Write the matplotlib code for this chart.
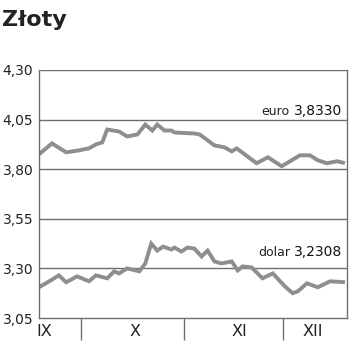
import matplotlib.pyplot as plt
from matplotlib.ticker import FixedLocator, NullFormatter, FixedFormatter

# day number counted from 1 September
euro_days = [17.3, 21.2, 25.5, 29.4, 32.4, 34.5, 36.4, 37.9, 41.5, 43.9, 47.0,
             49.4, 51.5, 53.0, 55.2, 57.3, 58.2, 64.2, 65.8, 70.3, 73.3, 75.5,
             77.0, 83.0, 86.4, 90.6, 93.6, 96.1, 99.1, 101.5, 104.2, 107.3, 109.1]
euro_rate = [3.875, 3.93, 3.885, 3.895, 3.905, 3.925, 3.935, 4.00, 3.99, 3.965, 3.975,
             4.025, 3.995, 4.025, 3.995, 3.995, 3.985, 3.98, 3.975, 3.92, 3.91, 3.89,
             3.905, 3.83, 3.86, 3.815, 3.845, 3.87, 3.87, 3.845, 3.83, 3.84, 3.833]

usd_days = [17.3, 20.9, 23.3, 25.5, 28.8, 32.4, 34.5, 37.9, 40.0, 41.5, 43.9,
            47.6, 49.4, 51.2, 53.0, 54.8, 57.3, 58.2, 60.3, 62.1, 64.2, 66.4,
            68.2, 70.3, 72.4, 75.5, 77.3, 78.8, 81.5, 84.8, 87.9, 91.5, 93.9,
            95.5, 98.2, 101.5, 105.2, 109.1]
usd_rate = [3.205, 3.24, 3.265, 3.23, 3.26, 3.235, 3.265, 3.25, 3.285, 3.275, 3.30,
            3.285, 3.325, 3.425, 3.39, 3.41, 3.395, 3.405, 3.385, 3.405, 3.40, 3.36,
            3.39, 3.335, 3.325, 3.335, 3.29, 3.31, 3.305, 3.25, 3.275, 3.21, 3.175,
            3.185, 3.225, 3.205, 3.235, 3.231]

y_ticks = [3.05, 3.30, 3.55, 3.80, 4.05, 4.30]
month_edges = [30, 61, 91]
month_mid = [18.8, 46.4, 77.9, 100.0]
month_names = ["IX", "X", "XI", "XII"]

euro_label = ("euro", "3,8330")
usd_label = ("dolar", "3,2308")

LINE = "#8e8e8e"
GRID = "#6e6e6e"
TEXT = "#222222"

fig = plt.figure(figsize=(3.5, 3.51), dpi=100)
ax = fig.add_axes([0.1114, 0.094, 0.88, 0.7066])

ax.plot(euro_days, euro_rate, color=LINE, lw=2.8, solid_joinstyle="miter")
ax.plot(usd_days, usd_rate, color=LINE, lw=2.8, solid_joinstyle="miter")

ax.set_xlim(17.3, 110.3)
ax.set_ylim(3.05, 4.30)

ax.set_yticks(y_ticks)
ax.set_yticklabels([f"{v:.2f}".replace(".", ",") for v in y_ticks])
ax.tick_params(axis="y", length=0, pad=4, labelsize=10, labelcolor=TEXT)
for v in y_ticks[1:]:
    ax.axhline(v, color=GRID, lw=1.0, zorder=0)

# month boundaries as long ticks, names between them
ax.xaxis.set_major_locator(FixedLocator(month_edges))
ax.xaxis.set_major_formatter(NullFormatter())
ax.xaxis.set_minor_locator(FixedLocator(month_mid))
ax.xaxis.set_minor_formatter(FixedFormatter(month_names))
ax.tick_params(axis="x", which="major", length=16, width=1.0, color=GRID)
ax.tick_params(axis="x", which="minor", length=0, pad=4, labelsize=11.5,
               labelcolor=TEXT)

for side in ["left", "right", "bottom"]:
    ax.spines[side].set_color(GRID)
    ax.spines[side].set_linewidth(1.0)
ax.spines["top"].set_visible(False)

for (name, val), ypos, xname in [(euro_label, 4.075, 0.812), (usd_label, 3.365, 0.815)]:
    ax.text(0.985, ypos, val, transform=ax.get_yaxis_transform(), ha="right",
            va="baseline", fontsize=10, color="#111111")
    ax.text(xname, ypos, name, transform=ax.get_yaxis_transform(), ha="right",
            va="baseline", fontsize=9, color=TEXT)

fig.text(0.006, 0.925, "Złoty", fontsize=16, fontweight="bold", color=TEXT,
         ha="left", va="baseline")

fig.savefig("out.png", dpi=100, facecolor="white")
